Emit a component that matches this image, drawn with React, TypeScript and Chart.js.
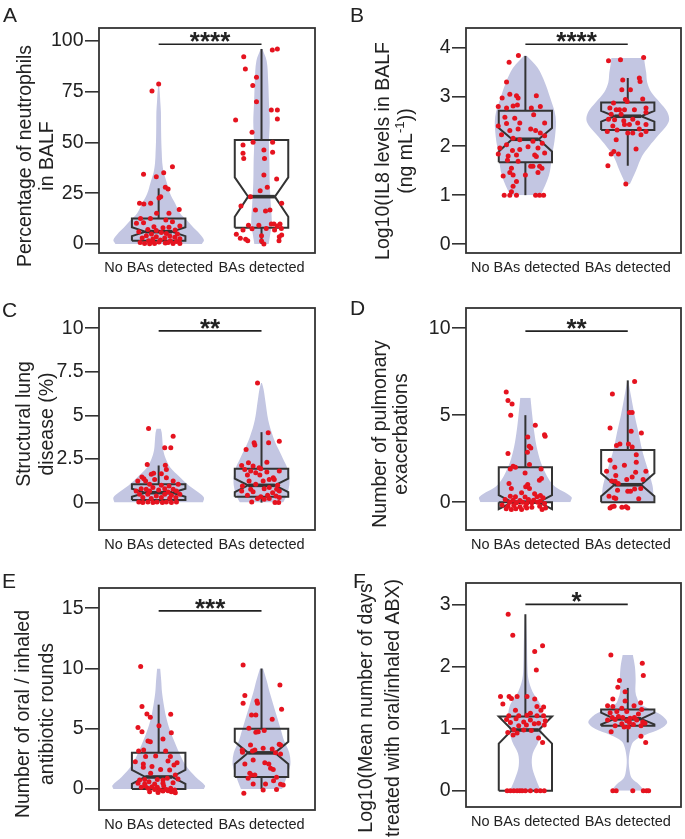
import { useEffect, useRef } from 'react';
import { Chart, registerables } from 'chart.js';

Chart.register(...registerables);

const FONT = "'Liberation Sans', Arial, Helvetica, sans-serif";
const VIOLIN = '#c3c6e2';
const RED = '#e5131f';
const INK = '#333333';
const TEXT = '#222222';

// ---------------- data ----------------
const categories = ['No BAs detected', 'BAs detected'];
const sigStars = ['****', '****', '**', '**', '***', '*'];
const sigLevels = [98.2, 4.08, 9.85, 9.83, 14.78, 3.01];

const ticksA = [0, 25, 50, 75, 100];
const ticksB = [0, 1, 2, 3, 4];
const ticksC = [0, 2.5, 5, 7.5, 10];
const ticksD = [0, 5, 10];
const ticksE = [0, 5, 10, 15];
const ticksF = [0, 1, 2, 3];

// box stats: [q1, median, q3, notchLow, notchHigh, whiskerLow, whiskerHigh]
const boxA = [[1.6, 6.1, 12.6, 3.9, 8.3, 0, 27.4], [8.0, 23.3, 51.1, 13.4, 32.8, 0, 95.9]];
const boxB = [[1.67, 2.14, 2.72, 1.89, 2.37, 1.0, 3.84], [2.33, 2.61, 2.89, 2.5, 2.72, 1.6, 3.39]];
const boxC = [[0.15, 0.57, 1.05, 0.34, 0.8, 0, 2.13], [0.34, 0.99, 1.94, 0.6, 1.37, 0, 4.04]];
const boxD = [[0, 0, 2, -0.4, 0.4, 0, 5], [0, 1, 3, 0.34, 1.66, 0, 7]];
const boxE = [[0, 1, 3, 0.42, 1.58, 0, 7], [1, 3, 5, 2.07, 3.93, 0, 10]];
const boxF = [[0, 0.98, 1.2, 0.76, 1.2, 0, 2.85], [1.05, 1.16, 1.31, 1.07, 1.26, 0.78, 1.66]];

// violin outlines: y levels and half widths
const violinA1Y = [0, 2, 5, 8, 12, 15, 20, 25, 30, 35, 40, 45, 50, 55, 60, 65, 70, 75, 78.7];
const violinA1W = [0.42, 0.44, 0.4, 0.34, 0.27, 0.21, 0.16, 0.11, 0.08, 0.05, 0.035, 0.03, 0.026, 0.024, 0.023, 0.022, 0.016, 0.01, 0.003];
const violinA2Y = [0, 5, 10, 20, 30, 40, 50, 60, 70, 80, 90, 95.9];
const violinA2W = [0.07, 0.085, 0.1, 0.09, 0.08, 0.077, 0.072, 0.08, 0.072, 0.065, 0.05, 0.008];
const violinB1Y = [1, 1.4, 1.8, 2.2, 2.6, 3.0, 3.3, 3.6, 3.85];
const violinB1W = [0.15, 0.23, 0.26, 0.29, 0.295, 0.24, 0.19, 0.12, 0.01];
const violinB2Y = [1.22, 1.5, 1.8, 2.0, 2.2, 2.5, 2.7, 2.9, 3.1, 3.3, 3.5, 3.7, 3.8];
const violinB2W = [0.02, 0.08, 0.14, 0.21, 0.29, 0.4, 0.385, 0.31, 0.23, 0.19, 0.18, 0.165, 0.16];
const violinC1Y = [0, 0.3, 0.6, 1.0, 1.5, 2.0, 2.5, 3.0, 3.5, 4.0, 4.25];
const violinC1W = [0.43, 0.44, 0.385, 0.29, 0.2, 0.115, 0.07, 0.045, 0.037, 0.03, 0.02];
const violinC2Y = [0, 0.5, 1.0, 1.5, 2.0, 2.5, 3.0, 3.5, 4.0, 4.5, 5.0, 5.5, 6.0, 6.5, 6.86];
const violinC2W = [0.21, 0.25, 0.27, 0.27, 0.25, 0.21, 0.17, 0.13, 0.1, 0.075, 0.057, 0.045, 0.033, 0.02, 0.004];
const violinD1Y = [0, 0.3, 1, 2, 3, 4, 5, 6];
const violinD1W = [0.44, 0.45, 0.27, 0.17, 0.117, 0.087, 0.067, 0.05];
const violinD2Y = [0, 0.5, 1, 2, 3, 4, 5, 6, 7];
const violinD2W = [0.25, 0.25, 0.24, 0.19, 0.14, 0.105, 0.067, 0.035, 0.005];
const violinE1Y = [0, 0.3, 1, 2, 3, 4, 5, 6, 7, 8, 9, 10];
const violinE1W = [0.44, 0.45, 0.36, 0.26, 0.2, 0.15, 0.105, 0.072, 0.05, 0.033, 0.025, 0.015];
const violinE2Y = [0, 1, 2, 3, 4, 5, 6, 7, 8, 9, 10];
const violinE2W = [0.2, 0.245, 0.28, 0.27, 0.22, 0.185, 0.15, 0.115, 0.08, 0.05, 0.015];
const violinF1Y = [0, 0.2, 0.4, 0.6, 0.8, 1.0, 1.2, 1.4, 1.6, 1.8, 2.0, 2.4, 2.85];
const violinF1W = [0.15, 0.1, 0.065, 0.072, 0.13, 0.16, 0.17, 0.145, 0.07, 0.03, 0.02, 0.015, 0.005];
const violinF2Y = [0, 0.1, 0.2, 0.3, 0.5, 0.7, 0.8, 0.9, 1.0, 1.1, 1.2, 1.3, 1.4, 1.5, 1.6, 1.8, 2.0, 2.19];
const violinF2W = [0.16, 0.11, 0.04, 0.02, 0.01, 0.03, 0.06, 0.17, 0.32, 0.385, 0.345, 0.24, 0.12, 0.09, 0.075, 0.077, 0.07, 0.05];

// jittered observations: [x offset from group centre, value]
const pointsA1 = [[0, 78.7], [-0.065, 75.2], [0.134, 38], [-0.147, 34.3], [-0.023, 33.1], [0.049, 35.1], [0.065, 27.9], [0.092, 27], [0.02, 23.3], [0.003, 22.6], [0.2, 17], [-0.186, 20], [-0.144, 19.7], [-0.078, 20], [-0.02, 15.1], [0.1, 15.1], [-0.176, 12.6], [-0.08, 12.6], [0.07, 11.8], [-0.147, 10.5], [-0.216, 10.2], [0.134, 11], [0.206, 8.9], [-0.046, 8.5], [0.042, 8], [0.1, 8.2], [-0.105, 7.2], [-0.023, 6.6], [0.16, 6.9], [-0.193, 6.1], [0.026, 5.7], [0.075, 5.2], [-0.07, 4.9], [0.183, 4.9], [-0.12, 4.1], [0.108, 3.9], [-0.023, 3.6], [0.157, 3.3], [0.059, 3], [-0.16, 3], [-0.056, 2.5], [0.206, 2.6], [0.016, 2], [-0.098, 1.6], [0.114, 1.6], [0.173, 1.3], [-0.18, 0.7], [-0.137, 0.3], [-0.088, 0.2], [-0.04, 0.3], [0.065, 0.5], [0.14, 0.3], [0.092, 0.8], [0.206, 0.3], [0.003, 1], [-0.062, 1.3]];
const pointsA2 = [[-0.173, 92.1], [-0.157, 86.1], [-0.049, 82], [-0.085, 77.9], [0.105, 95.4], [0.154, 95.9], [-0.049, 70], [0.095, 65.9], [0.154, 65.9], [0.154, 61.5], [-0.252, 61], [-0.092, 54.9], [-0.18, 48.7], [-0.082, 50], [0.108, 50], [0.023, 46.2], [0.108, 45.1], [-0.18, 44.6], [-0.173, 42], [0.029, 42], [0.023, 33.9], [0.147, 32], [0.056, 27.9], [-0.013, 26.2], [-0.2, 18.7], [0.196, 20], [-0.108, 23.3], [-0.059, 16.7], [0.039, 16.2], [0.082, 16.7], [-0.127, 9.2], [-0.026, 9.2], [0.095, 9.8], [0.121, 9.8], [0.18, 9.8], [0.154, 8.9], [-0.092, 7.5], [-0.18, 6.9], [0.046, 7.7], [0.193, 7.7], [0.127, 6.9], [-0.245, 4.8], [0, 4.1], [0.196, 4.4], [0.173, 3.6], [-0.206, 2.8], [-0.154, 2.3], [-0.134, 1.6], [0.17, 1.6], [0, 1.5], [0.023, 0]];
const pointsB1 = [[-0.068, 3.85], [-0.159, 3.71], [-0.184, 3.31], [-0.152, 3.06], [-0.087, 3.03], [-0.071, 2.98], [0.107, 3.03], [0.146, 2.81], [-0.227, 2.98], [-0.265, 2.81], [-0.184, 2.78], [-0.12, 2.82], [-0.078, 2.84], [-0.2, 2.59], [-0.104, 2.57], [-0.055, 2.47], [0.058, 2.78], [0.081, 2.64], [0.188, 2.47], [-0.265, 2.41], [-0.184, 2.46], [-0.152, 2.32], [-0.071, 2.35], [0.052, 2.35], [0.1, 2.32], [0.146, 2.27], [0.188, 2.21], [-0.233, 2.23], [-0.12, 2.16], [-0.055, 2.13], [0.074, 2.1], [0.165, 2.06], [-0.249, 1.96], [-0.184, 2.03], [-0.126, 1.91], [-0.055, 1.93], [0.026, 1.99], [0.123, 1.96], [0.188, 1.86], [-0.265, 1.84], [-0.168, 1.8], [-0.087, 1.82], [0.091, 1.82], [0.107, 1.79], [-0.175, 1.71], [-0.071, 1.69], [0.074, 1.59], [0.139, 1.59], [0.162, 1.55], [0.052, 1.59], [-0.136, 1.55], [-0.152, 1.46], [0.123, 1.46], [-0.12, 1.41], [0, 1.41], [-0.217, 1.39], [-0.087, 1.28], [-0.12, 1.18], [-0.136, 1.07], [-0.207, 1], [-0.152, 1], [-0.087, 1], [0.1, 1], [0.139, 1], [0.178, 1]];
const pointsB2 = [[-0.188, 3.74], [-0.071, 3.76], [0.155, 3.81], [0.113, 3.39], [0.12, 3.32], [-0.049, 3.35], [-0.058, 3.15], [0.026, 3.15], [-0.139, 2.88], [-0.023, 2.95], [-0.006, 2.91], [0.146, 2.96], [-0.175, 2.78], [-0.113, 2.74], [-0.081, 2.74], [-0.032, 2.74], [0.065, 2.74], [0.178, 2.78], [-0.162, 2.65], [-0.065, 2.65], [0.178, 2.69], [-0.188, 2.55], [-0.129, 2.54], [-0.039, 2.52], [0.049, 2.55], [0.097, 2.47], [-0.146, 2.41], [-0.032, 2.44], [0.016, 2.44], [0.178, 2.44], [-0.2, 2.3], [-0.104, 2.33], [0, 2.27], [0.113, 2.35], [0.178, 2.3], [0.129, 2.23], [-0.113, 2.13], [0.049, 2.27], [0.081, 1.94], [-0.162, 1.84], [-0.091, 1.84], [-0.136, 1.89], [-0.194, 1.6], [-0.019, 1.23]];
const pointsC1 = [[-0.098, 4.25], [0.141, 3.81], [0.059, 3.14], [0.118, 3.14], [-0.111, 2.19], [0.065, 2.15], [0.075, 1.9], [-0.072, 1.62], [-0.049, 1.68], [0.026, 1.66], [-0.163, 1.47], [-0.144, 1.37], [0.075, 1.43], [-0.203, 1.24], [-0.127, 1.24], [-0.039, 1.33], [0.141, 1.24], [0.19, 1.05], [-0.088, 1.05], [0.026, 0.99], [0.101, 0.95], [-0.17, 0.8], [-0.121, 0.76], [-0.056, 0.86], [0.059, 0.8], [0.141, 0.76], [-0.219, 0.67], [-0.088, 0.67], [0, 0.72], [0.092, 0.61], [0.173, 0.67], [-0.186, 0.48], [-0.105, 0.48], [-0.023, 0.38], [0.059, 0.48], [0.124, 0.42], [0.206, 0.48], [-0.154, 0.29], [-0.072, 0.23], [0.026, 0.29], [0.108, 0.25], [0.167, 0.29], [-0.193, 0.04], [-0.154, 0], [-0.105, 0.04], [-0.056, 0], [-0.016, 0.04], [0.036, 0], [0.075, 0.04], [0.124, 0], [0.173, 0.04]];
const pointsC2 = [[-0.039, 6.86], [0.065, 4.0], [-0.072, 3.43], [-0.065, 3.3], [0.069, 3.43], [0.173, 3.52], [-0.15, 3.05], [0.052, 2.32], [-0.193, 2.13], [-0.127, 2.29], [-0.082, 2.1], [-0.023, 2.0], [-0.007, 1.94], [0.173, 1.81], [-0.163, 1.9], [-0.105, 1.81], [-0.056, 1.71], [0.052, 1.75], [-0.137, 1.58], [-0.016, 1.58], [0.114, 1.43], [0.124, 1.33], [-0.121, 1.24], [0.016, 1.24], [0.075, 1.33], [-0.186, 0.95], [-0.056, 1.05], [0.157, 0.99], [-0.105, 0.76], [0.026, 0.8], [0.075, 0.86], [0.147, 0.76], [-0.193, 0.67], [-0.082, 0.63], [0.108, 0.57], [0.173, 0.67], [-0.137, 0.42], [-0.007, 0.34], [0.059, 0.42], [0.141, 0.38], [-0.039, 0.23], [0.026, 0.19], [0.075, 0.23], [0.173, 0.29], [-0.095, 0.04], [0.131, 0], [0.167, 0]];
const pointsD1 = [[-0.187, 6.33], [-0.17, 5.85], [-0.13, 5.64], [-0.143, 4.99], [0.097, 4.42], [0.187, 3.88], [0.193, 3.79], [0.023, 3.75], [0.037, 3.21], [0.053, 3.12], [0.02, 2.87], [-0.17, 2.79], [-0.12, 2.07], [-0.097, 2.01], [0.153, 1.91], [-0.147, 1.91], [0.04, 2.16], [-0.003, 1.68], [0.157, 1.36], [0.137, 1.26], [-0.16, 1.07], [0.023, 1.01], [0.003, 0.88], [0.04, 0.78], [-0.137, 0.78], [-0.037, 0.54], [0.09, 0.48], [0.147, 0.38], [-0.147, 0.34], [-0.097, 0.31], [-0.003, 0.29], [0.113, 0.31], [0.173, 0.25], [-0.197, 0.15], [-0.12, 0.11], [-0.053, 0.1], [0.03, 0.15], [0.08, 0.11], [0.147, 0.06], [-0.153, 0], [-0.087, -0.04], [-0.027, 0], [0.013, -0.08], [0.063, -0.04], [0.12, 0], [0.187, -0.08], [-0.227, -0.17], [-0.17, -0.23], [-0.113, -0.19], [-0.053, -0.27], [0.003, -0.23], [0.063, -0.29], [0.14, -0.23], [0.197, -0.33], [-0.187, -0.38], [-0.137, -0.42], [-0.093, -0.38], [-0.037, -0.42], [0.013, -0.34], [0.163, -0.42]];
const pointsD2 = [[0.067, 6.94], [-0.15, 6.21], [0.017, 5.16], [0.043, 5.16], [-0.173, 4.26], [0.033, 4.07], [0.133, 3.98], [-0.11, 3.25], [-0.077, 3.35], [0.007, 3.35], [0.043, 3.17], [0.083, 2.73], [-0.173, 2.41], [-0.127, 2.01], [-0.033, 2.12], [0.083, 2.29], [-0.207, 1.78], [0.077, 1.72], [0.177, 1.78], [-0.117, 1.53], [0.043, 1.45], [-0.157, 1.22], [-0.123, 1.2], [-0.01, 1.3], [-0.093, 1.07], [0.15, 1.3], [-0.1, 0.69], [0, 0.63], [0.027, 0.63], [0.067, 0.76], [0.127, 0.78], [-0.183, 0.34], [-0.133, 0.25], [-0.117, 0.21], [0.107, 0.19], [-0.157, -0.27], [-0.133, -0.23], [-0.057, -0.29], [-0.017, -0.27], [0, -0.33], [-0.173, -0.33]];
const pointsE1 = [[-0.175, 10.17], [-0.162, 6.84], [-0.114, 6.23], [-0.081, 5.96], [0.117, 6.2], [0.003, 5.26], [-0.201, 5.1], [-0.162, 4.76], [0.123, 4.68], [0.042, 4.16], [-0.104, 3.99], [-0.081, 3.93], [-0.195, 3.16], [-0.146, 3.24], [0.068, 3.16], [0.114, 2.69], [-0.127, 2.69], [-0.029, 2.74], [0.179, 2.19], [-0.227, 2.27], [-0.149, 2.08], [0.091, 2.33], [0.149, 1.99], [-0.065, 1.86], [-0.149, 1.8], [0.019, 1.63], [0.107, 1.58], [-0.078, 1.3], [0.162, 1.16], [-0.185, 0.75], [-0.136, 0.8], [-0.013, 0.8], [0.042, 0.75], [0.084, 0.89], [0.188, 0.83], [-0.094, 0.61], [-0.201, 0.47], [-0.136, 0.42], [-0.039, 0.42], [0.042, 0.47], [0.14, 0.53], [-0.169, 0.14], [-0.104, 0.06], [-0.065, 0.19], [-0.013, 0.14], [0.049, 0.25], [0.075, -0.03], [0.117, 0.06], [0.156, -0.08], [-0.088, -0.22], [-0.039, -0.03], [0.01, -0.08], [0.042, -0.17], [0.091, -0.14], [0.123, -0.22], [0.162, -0.3], [-0.006, -0.28], [-0.13, 0.25]];
const pointsE2 = [[-0.179, 10.3], [-0.162, 7.76], [-0.179, 7.12], [-0.045, 7.31], [-0.039, 7.12], [0.179, 8.64], [-0.097, 6.15], [-0.055, 6.15], [0.195, 6.62], [0.104, 5.79], [-0.123, 5.04], [-0.055, 4.71], [-0.032, 4.76], [0.026, 4.85], [0.172, 3.71], [0.185, 3.66], [-0.188, 3.24], [-0.107, 3.66], [0.016, 3.38], [0.104, 3.32], [-0.088, 3.16], [-0.065, 3.24], [0.136, 3.02], [0.185, 2.91], [-0.185, 3.05], [-0.081, 2.41], [0.032, 2.19], [0.071, 2.08], [-0.162, 2.08], [0.088, 1.72], [0.114, 1.63], [-0.114, 1.3], [-0.097, 1.16], [-0.065, 1.16], [-0.13, 0.89], [0.146, 0.97], [0.117, 0.69], [-0.081, 0.42], [0.039, 0.42], [0.185, 0.39], [0.211, 0.33], [-0.172, -0.36], [0.016, -0.08], [0.146, -0.03]];
const pointsF1 = [[-0.168, 2.85], [-0.123, 2.51], [0.168, 2.34], [0.091, 2.25], [0.107, 1.95], [-0.243, 1.52], [-0.159, 1.52], [-0.136, 1.49], [0.016, 1.52], [-0.22, 1.4], [-0.081, 1.52], [0.091, 1.48], [0.113, 1.36], [0.178, 1.35], [-0.097, 1.3], [0.152, 1.3], [0.049, 1.25], [-0.162, 1.21], [-0.065, 1.21], [0.016, 1.22], [0.113, 1.21], [0.178, 1.21], [-0.184, 1.15], [-0.091, 1.16], [0.049, 1.14], [0.194, 1.13], [-0.146, 1.1], [-0.016, 1.11], [0.129, 1.09], [-0.065, 1.05], [0.01, 1.06], [0.087, 1.08], [0.184, 1.06], [-0.113, 0.99], [-0.016, 0.98], [-0.081, 0.93], [-0.172, 0.94], [-0.12, 0.9], [0.058, 0.97], [0.129, 0.85], [0.168, 0.78], [-0.178, 0], [-0.146, 0], [-0.113, 0], [-0.081, 0], [-0.055, 0], [-0.032, 0], [0, 0], [0.049, 0], [0.107, 0], [0.146, 0], [0.184, 0]];
const pointsF2 = [[-0.165, 2.19], [0.142, 2.06], [0.152, 1.86], [-0.081, 1.78], [-0.097, 1.67], [-0.026, 1.6], [-0.146, 1.48], [-0.026, 1.45], [0.126, 1.42], [-0.197, 1.37], [-0.146, 1.36], [0.061, 1.37], [-0.058, 1.33], [-0.172, 1.26], [-0.107, 1.28], [-0.01, 1.28], [0.136, 1.31], [0.104, 1.24], [-0.152, 1.18], [-0.091, 1.2], [-0.049, 1.18], [0.023, 1.17], [0.065, 1.18], [-0.197, 1.14], [-0.123, 1.15], [-0.01, 1.13], [0.087, 1.14], [0.146, 1.11], [0.168, 1.09], [-0.058, 1.08], [0.016, 1.1], [0.055, 1.07], [-0.123, 1.05], [-0.036, 1.03], [0.129, 1.05], [-0.162, 0.95], [0.006, 1.03], [0.129, 0.88], [0.175, 0.78], [-0.146, 0], [-0.113, 0], [0.049, 0], [0.152, 0], [0.184, 0], [0.204, 0]];

// ---------------- layout (page pixels) ----------------
type Group = { pts: number[][]; vy: number[]; vw: number[]; box: number[] };
type PanelSpec = {
  letter: string;
  canvas: number[];
  frame: number[];
  yRange: number[];
  yTicks: number[];
  title: string[];
  titleX: number[];
  titleCY: number;
  letterAt: number[];
  groups: Group[];
  sig: number;
  stars: string;
};

const X_RANGE = [0.42, 2.52];
const BOX_HALF = 0.26;
const NOTCH_HALF = 0.13;

const panels: PanelSpec[] = [
  {
    letter: 'A', canvas: [0, 0, 340, 280], frame: [99, 28, 315, 253], yRange: [-4.4, 106.2], yTicks: ticksA,
    title: ['Percentage of neutrophils', 'in BALF'], titleX: [26, 47.5], titleCY: 156, letterAt: [3, 22],
    groups: [{ pts: pointsA1, vy: violinA1Y, vw: violinA1W, box: boxA[0] }, { pts: pointsA2, vy: violinA2Y, vw: violinA2W, box: boxA[1] }],
    sig: sigLevels[0], stars: sigStars[0],
  },
  {
    letter: 'B', canvas: [340, 0, 345, 280], frame: [466, 28, 683, 253], yRange: [-0.18, 4.41], yTicks: ticksB,
    title: ['Log10(IL8 levels in BALF', '(ng mL^{-1}))'], titleX: [384, 406.5], titleCY: 151, letterAt: [350, 22],
    groups: [{ pts: pointsB1, vy: violinB1Y, vw: violinB1W, box: boxB[0] }, { pts: pointsB2, vy: violinB2Y, vw: violinB2W, box: boxB[1] }],
    sig: sigLevels[1], stars: sigStars[1],
  },
  {
    letter: 'C', canvas: [0, 280, 340, 280], frame: [99, 308, 315, 530], yRange: [-1.57, 11.16], yTicks: ticksC,
    title: ['Structural lung', 'disease (%)'], titleX: [25, 47.5], titleCY: 424, letterAt: [2, 317],
    groups: [{ pts: pointsC1, vy: violinC1Y, vw: violinC1W, box: boxC[0] }, { pts: pointsC2, vy: violinC2Y, vw: violinC2W, box: boxC[1] }],
    sig: sigLevels[2], stars: sigStars[2],
  },
  {
    letter: 'D', canvas: [340, 280, 345, 280], frame: [466, 308, 683, 530], yRange: [-1.6, 11.16], yTicks: ticksD,
    title: ['Number of pulmonary', 'exacerbations'], titleX: [381, 402], titleCY: 434, letterAt: [350, 315],
    groups: [{ pts: pointsD1, vy: violinD1Y, vw: violinD1W, box: boxD[0] }, { pts: pointsD2, vy: violinD2Y, vw: violinD2W, box: boxD[1] }],
    sig: sigLevels[3], stars: sigStars[3],
  },
  {
    letter: 'E', canvas: [0, 560, 340, 279], frame: [99, 588, 315, 810], yRange: [-1.74, 16.68], yTicks: ticksE,
    title: ['Number of oral / inhaled', 'antibiotic rounds'], titleX: [24, 47.5], titleCY: 714, letterAt: [2, 588],
    groups: [{ pts: pointsE1, vy: violinE1Y, vw: violinE1W, box: boxE[0] }, { pts: pointsE2, vy: violinE2Y, vw: violinE2W, box: boxE[1] }],
    sig: sigLevels[4], stars: sigStars[4],
  },
  {
    letter: 'F', canvas: [340, 560, 345, 279], frame: [466, 583, 683, 807], yRange: [-0.264, 3.355], yTicks: ticksF,
    title: ['Log10(Mean number of days', 'treated with oral/inhaled ABX)'], titleX: [367, 394], titleCY: 708, letterAt: [353, 588],
    groups: [{ pts: pointsF1, vy: violinF1Y, vw: violinF1W, box: boxF[0] }, { pts: pointsF2, vy: violinF2Y, vw: violinF2W, box: boxF[1] }],
    sig: sigLevels[5], stars: sigStars[5],
  },
];

// ---------------- helpers ----------------
const xy = (x: number, y: number) => ({ x, y });

function groupDatasets(c: number, g: Group): any[] {
  const [q1, med, q3, nLo, nHi, wLo, wHi] = g.box;
  const b = BOX_HALF;
  const n = NOTCH_HALF;
  const right = g.vy.map((y, i) => xy(c + g.vw[i], y));
  const left = g.vy.map((y, i) => xy(c - g.vw[i], y));
  const outline = [
    xy(c - b, q1), xy(c - b, nLo), xy(c - n, med), xy(c - b, nHi), xy(c - b, q3),
    xy(c + b, q3), xy(c + b, nHi), xy(c + n, med), xy(c + b, nLo), xy(c + b, q1), xy(c - b, q1),
  ];
  const lineBase = { showLine: true, pointRadius: 0, fill: false, tension: 0 };
  return [
    { ...lineBase, data: right, borderWidth: 0, borderColor: 'rgba(0,0,0,0)', tension: 0.35, order: 6 },
    { ...lineBase, data: left, borderWidth: 0, borderColor: 'rgba(0,0,0,0)', backgroundColor: VIOLIN, fill: '-1', tension: 0.35, order: 6 },
    { ...lineBase, data: [xy(c, q3), xy(c, wHi)], borderColor: INK, borderWidth: 2, order: 4 },
    { ...lineBase, data: [xy(c, wLo), xy(c, q1)], borderColor: INK, borderWidth: 2, order: 4 },
    { ...lineBase, data: outline, borderColor: INK, borderWidth: 2, borderJoinStyle: 'miter', order: 3 },
    { ...lineBase, data: [xy(c - n, med), xy(c + n, med)], borderColor: INK, borderWidth: 3.6, order: 2 },
    {
      data: g.pts.map(([dx, y]) => xy(c + dx, y)), showLine: false, pointRadius: 2.5, pointBackgroundColor: RED,
      pointBorderWidth: 0, pointBorderColor: RED, order: 1,
    },
  ];
}

function drawRotatedLine(ctx: CanvasRenderingContext2D, line: string, x: number, y: number, size: number) {
  const parts = line.split(/(\^\{[^}]*\})/).filter((s) => s.length > 0).map((s) =>
    s.startsWith('^{') ? { t: s.slice(2, -1), sup: true } : { t: s, sup: false });
  const fontFor = (sup: boolean) => `${sup ? size * 0.68 : size}px ${FONT}`;
  ctx.save();
  ctx.translate(x, y);
  ctx.rotate(-Math.PI / 2);
  ctx.textAlign = 'left';
  ctx.textBaseline = 'middle';
  let total = 0;
  for (const p of parts) { ctx.font = fontFor(p.sup); total += ctx.measureText(p.t).width; }
  let pos = -total / 2;
  for (const p of parts) {
    ctx.font = fontFor(p.sup);
    ctx.fillText(p.t, pos, p.sup ? -size * 0.34 : 0);
    pos += ctx.measureText(p.t).width;
  }
  ctx.restore();
}

function decorPlugin(p: PanelSpec) {
  return {
    id: 'decor' + p.letter,
    afterDatasetsDraw(chart: any) {
      const { ctx, chartArea: a, scales } = chart;
      ctx.save();
      ctx.strokeStyle = INK;
      ctx.lineWidth = 1.8;
      ctx.strokeRect(a.left, a.top, a.right - a.left, a.bottom - a.top);
      ctx.fillStyle = TEXT;
      ctx.font = `bold 26px ${FONT}`;
      ctx.textAlign = 'center';
      ctx.textBaseline = 'alphabetic';
      ctx.fillText(p.stars, scales.x.getPixelForValue(1.5), scales.y.getPixelForValue(p.sig) + 6);
      ctx.restore();
    },
    afterDraw(chart: any) {
      const { ctx } = chart;
      const [cx, cy] = p.canvas;
      ctx.save();
      ctx.fillStyle = TEXT;
      ctx.font = `21px ${FONT}`;
      ctx.textAlign = 'left';
      ctx.textBaseline = 'alphabetic';
      ctx.fillText(p.letter, p.letterAt[0] - cx, p.letterAt[1] - cy);
      p.title.forEach((line, i) => drawRotatedLine(ctx, line, p.titleX[i] - cx, p.titleCY - cy, 19.5));
      ctx.restore();
    },
  };
}

function PanelChart({ p }: { p: PanelSpec }) {
  const ref = useRef<HTMLCanvasElement>(null);
  const [cx, cy, cw, ch] = p.canvas;
  useEffect(() => {
    const canvas = ref.current;
    if (!canvas) return;
    const [fl, ft, fr, fb] = p.frame;
    const datasets: any[] = [
      ...groupDatasets(1, p.groups[0]),
      ...groupDatasets(2, p.groups[1]),
      { data: [xy(1, p.sig), xy(2, p.sig)], showLine: true, pointRadius: 0, fill: false, borderColor: TEXT, borderWidth: 1.6, order: 0 },
    ];
    const chart = new Chart(canvas, {
      type: 'line',
      data: { datasets },
      options: {
        indexAxis: 'y',
        responsive: false,
        animation: false,
        events: [],
        layout: { padding: { left: 0, top: ft - cy, right: cx + cw - fr, bottom: 0 } },
        plugins: { legend: { display: false }, tooltip: { enabled: false }, colors: { enabled: false } },
        scales: {
          x: {
            type: 'linear', min: X_RANGE[0], max: X_RANGE[1],
            afterFit: (s: any) => { s.height = cy + ch - fb; },
            afterBuildTicks: (s: any) => { s.ticks = [{ value: 1 }, { value: 2 }]; },
            grid: { display: false, drawTicks: false },
            border: { display: false },
            ticks: {
              autoSkip: false, maxRotation: 0, padding: 6, color: TEXT,
              font: { size: 14.5, family: FONT },
              callback: (v: any) => categories[Math.round(Number(v)) - 1],
            },
          },
          y: {
            type: 'linear', min: p.yRange[0], max: p.yRange[1],
            afterFit: (s: any) => { s.width = fl - cx; },
            afterBuildTicks: (s: any) => { s.ticks = p.yTicks.map((v) => ({ value: v })); },
            grid: { display: true, drawOnChartArea: false, drawTicks: true, tickLength: 14, color: INK, lineWidth: 1.6 },
            border: { display: false },
            ticks: { padding: 1.5, color: TEXT, font: { size: 19.5, family: FONT }, callback: (v: any) => String(v) },
          },
        },
      } as any,
      plugins: [decorPlugin(p) as any],
    });
    return () => chart.destroy();
  }, [p]);
  return (
    <canvas
      ref={ref}
      width={cw}
      height={ch}
      style={{ position: 'absolute', left: cx, top: cy, width: cw, height: ch }}
    />
  );
}

export default function App() {
  return (
    <div style={{ position: 'absolute', left: 0, top: 0, width: 685, height: 839, background: '#ffffff', overflow: 'hidden' }}>
      {panels.map((p) => <PanelChart key={p.letter} p={p} />)}
    </div>
  );
}
